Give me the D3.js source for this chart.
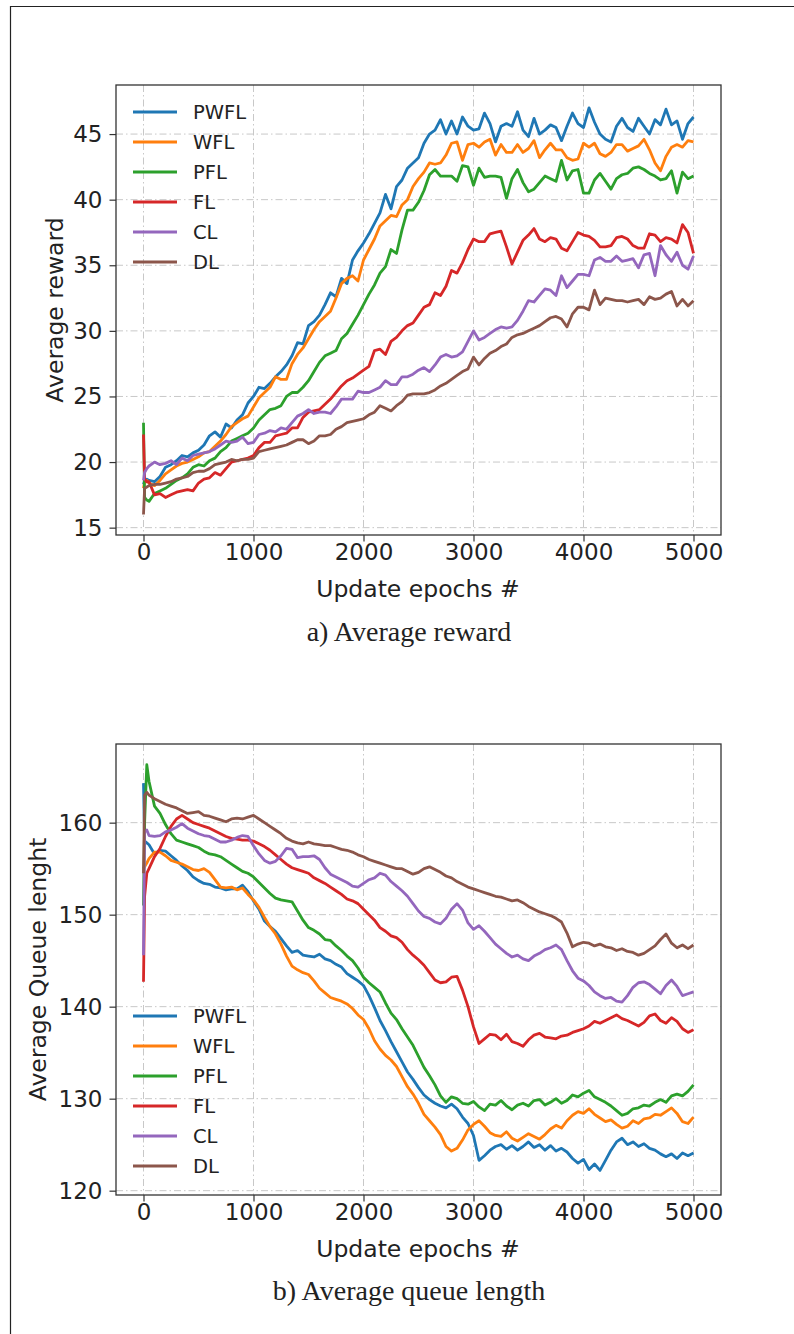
<!DOCTYPE html>
<html lang="en">
<head>
<meta charset="utf-8">
<script src="https://cdn.jsdelivr.net/npm/d3@7"></script>
<style>
    body { margin: 0; background: #fff; }
    svg { display: block; font-family: "DejaVu Sans", sans-serif; }
    .tick text { font-family: "DejaVu Sans", sans-serif; }
</style>
<title>Average reward / queue length</title>
</head>
<body>
<svg id="fig" width="794" height="1334"></svg>
<script>
// x positions shared by every series
const epochs = [0, 10, 30].concat(d3.range(50, 5001, 50));

const names = ["PWFL", "WFL", "PFL", "FL", "CL", "DL"];
const colors = ["#1f77b4", "#ff7f0e", "#2ca02c", "#d62728", "#9467bd", "#8c564b"];

// ---- a) Average reward ----
const rewardPWFL = [18.3, 18.6, 18.7, 18.6, 18.5, 18.9, 19.6, 19.8, 20.1, 20.5, 20.4, 20.7, 20.9, 21.3, 22.0, 22.3, 21.9, 22.9, 22.6, 23.2, 23.6, 24.5, 25.0,
    25.7, 25.6, 26.0, 26.5, 26.9, 27.4, 28.1, 29.1, 29.0, 30.4, 30.7, 31.2, 32.0, 32.9, 32.6, 34.0, 33.6, 35.4, 36.1, 36.7,
    37.4, 38.2, 39.0, 40.4, 39.3, 41.0, 41.5, 42.4, 42.8, 43.2, 44.3, 45.0, 45.3, 46.1, 45.0, 46.0, 45.0, 46.3, 45.6, 45.3,
    45.4, 46.6, 45.8, 44.4, 45.6, 45.8, 45.6, 46.7, 45.3, 44.8, 46.2, 45.0, 45.3, 45.7, 45.5, 44.5, 45.6, 46.6, 45.8, 45.5,
    47.0, 45.9, 45.0, 44.6, 44.4, 45.6, 46.2, 45.5, 45.2, 46.2, 45.6, 45.0, 46.1, 45.7, 46.9, 45.7, 46.0, 44.6, 45.8, 46.3];
const rewardWFL = [18.0, 18.5, 18.6, 18.4, 18.2, 18.6, 19.1, 19.4, 19.7, 19.9, 20.0, 20.2, 20.4, 20.7, 20.8, 21.2, 21.6, 22.1, 22.7, 23.0, 23.3, 23.5, 24.2,
    24.9, 25.3, 25.7, 26.5, 26.3, 26.3, 27.5, 28.2, 28.7, 29.4, 30.1, 30.7, 31.1, 31.5, 32.5, 33.6, 34.0, 34.2, 33.8, 35.4,
    36.2, 37.0, 38.0, 38.4, 38.8, 38.7, 39.6, 40.0, 41.0, 41.6, 42.1, 42.8, 42.7, 42.8, 43.4, 44.3, 44.4, 43.0, 44.2, 44.3,
    44.0, 44.4, 44.6, 43.4, 44.2, 43.6, 43.6, 44.2, 43.6, 43.9, 44.5, 43.2, 43.8, 44.3, 43.8, 43.8, 43.2, 43.0, 43.1, 44.3,
    44.0, 44.3, 43.5, 43.3, 43.6, 44.2, 44.2, 43.7, 43.9, 44.1, 44.6, 43.8, 42.8, 42.2, 43.3, 44.0, 44.2, 44.0, 44.5, 44.4];
const rewardPFL = [23.0, 17.3, 17.1, 17.0, 17.6, 17.8, 18.0, 18.3, 18.6, 18.8, 19.1, 19.6, 19.8, 19.7, 20.1, 20.3, 20.8, 21.1, 21.6, 21.8, 22.0, 22.2, 22.6,
    23.2, 23.6, 24.0, 24.1, 24.3, 25.0, 25.3, 25.3, 25.7, 26.2, 26.9, 27.6, 28.1, 28.3, 28.5, 29.4, 29.8, 30.5, 31.2, 32.0,
    32.8, 33.5, 34.4, 34.9, 36.2, 35.9, 37.7, 39.2, 39.2, 39.8, 40.7, 41.9, 42.3, 41.8, 41.8, 41.8, 41.4, 42.6, 42.5, 41.1,
    42.4, 41.7, 41.8, 41.8, 41.7, 40.1, 41.6, 42.3, 41.3, 40.6, 40.8, 41.3, 41.8, 41.6, 41.4, 43.0, 41.5, 42.2, 42.3, 40.5,
    40.5, 41.5, 42.0, 41.4, 40.8, 41.6, 41.9, 42.0, 42.4, 42.5, 42.3, 42.0, 41.8, 41.5, 41.6, 42.2, 40.5, 42.1, 41.6, 41.8];
const rewardFL = [22.1, 18.7, 18.5, 18.5, 17.5, 17.6, 17.3, 17.5, 17.7, 17.8, 17.9, 17.8, 18.4, 18.7, 18.8, 19.2, 19.0, 19.5, 20.0, 20.1, 20.2, 20.3, 20.5,
    21.1, 21.5, 21.5, 22.0, 22.1, 22.2, 22.6, 22.6, 23.4, 23.8, 23.9, 24.0, 24.4, 24.8, 25.3, 25.8, 26.2, 26.4, 26.7, 27.0,
    27.3, 28.5, 28.6, 28.2, 29.2, 29.5, 30.0, 30.4, 30.6, 31.2, 31.8, 32.0, 32.9, 32.7, 33.4, 34.6, 34.4, 35.2, 36.2, 37.0,
    36.8, 36.8, 37.4, 37.5, 37.6, 36.4, 35.1, 36.0, 36.9, 37.3, 37.8, 37.0, 36.8, 37.1, 37.0, 36.3, 36.1, 36.8, 37.5, 37.3,
    37.2, 36.9, 36.4, 36.4, 36.5, 37.1, 37.2, 37.0, 36.5, 36.3, 36.3, 37.4, 37.3, 36.8, 37.1, 37.0, 36.7, 38.1, 37.5, 35.9];
const rewardCL = [18.6, 19.2, 19.5, 19.7, 20.0, 19.8, 19.9, 20.1, 19.8, 20.3, 20.1, 20.5, 20.6, 20.7, 20.8, 21.0, 21.3, 21.6, 21.5, 21.6, 21.9, 21.4, 21.5,
    22.1, 22.2, 22.4, 22.3, 22.6, 22.5, 23.0, 23.5, 23.7, 24.0, 23.7, 23.8, 23.8, 23.7, 24.2, 24.8, 24.8, 24.8, 25.4, 25.3,
    25.3, 25.5, 25.7, 26.2, 25.9, 25.9, 26.5, 26.5, 26.7, 27.0, 27.2, 26.9, 27.4, 28.0, 28.2, 28.0, 28.1, 28.4, 29.2, 30.0,
    29.3, 29.5, 29.8, 30.1, 30.3, 30.2, 30.3, 30.8, 31.5, 32.3, 32.2, 32.7, 33.2, 33.1, 32.7, 34.2, 33.3, 33.8, 34.3, 34.3,
    34.2, 35.4, 35.6, 35.3, 35.3, 35.7, 35.3, 35.4, 35.5, 34.8, 35.8, 35.9, 34.2, 36.5, 35.8, 35.3, 36.0, 35.0, 34.7, 35.7];
const rewardDL = [16.0, 18.0, 18.1, 18.2, 18.3, 18.3, 18.4, 18.5, 18.7, 18.8, 18.9, 19.2, 19.3, 19.3, 19.5, 19.8, 19.9, 20.0, 20.2, 20.1, 20.2, 20.2, 20.3,
    20.8, 20.9, 21.0, 21.1, 21.2, 21.3, 21.5, 21.7, 21.7, 21.4, 21.6, 22.0, 22.0, 22.1, 22.5, 22.7, 23.0, 23.1, 23.2, 23.3,
    23.6, 23.8, 24.3, 24.1, 23.9, 24.3, 24.6, 25.1, 25.2, 25.2, 25.2, 25.3, 25.5, 25.8, 26.0, 26.3, 26.6, 26.9, 27.1, 28.0,
    27.4, 27.9, 28.3, 28.5, 28.8, 29.0, 29.5, 29.7, 29.8, 30.0, 30.2, 30.4, 30.7, 31.0, 31.1, 30.9, 30.3, 31.3, 31.8, 31.8,
    31.6, 33.1, 32.0, 32.5, 32.4, 32.3, 32.3, 32.2, 32.3, 32.4, 32.0, 32.6, 32.4, 32.5, 32.8, 33.0, 31.9, 32.4, 31.9, 32.3];

// ---- b) Average queue length ----
const queuePWFL = [164.3, 158.0, 157.8, 157.6, 156.6, 157.0, 156.9, 156.4, 155.9, 155.3, 154.8, 154.1, 153.7, 153.4, 153.3, 153.0, 152.9, 152.7, 152.8, 152.8, 153.2, 152.5, 151.5,
    150.6, 149.3, 148.7, 148.2, 147.4, 146.6, 145.9, 146.1, 145.6, 145.5, 145.4, 145.7, 145.2, 145.0, 144.6, 144.3, 143.6, 143.2, 142.8, 142.3,
    141.2, 139.9, 138.5, 137.4, 136.2, 135.1, 134.0, 132.9, 132.1, 131.2, 130.4, 129.9, 129.5, 129.2, 129.0, 129.4, 128.9, 128.0, 127.3, 126.0,
    123.3, 123.8, 124.4, 124.8, 125.0, 124.5, 124.9, 124.4, 124.8, 125.3, 124.7, 125.0, 124.4, 124.9, 124.3, 124.6, 124.2, 123.5, 123.0, 123.4,
    122.3, 122.9, 122.2, 123.3, 124.4, 125.3, 125.7, 125.0, 125.3, 124.8, 125.1, 124.6, 124.4, 124.0, 123.7, 124.0, 123.5, 124.1, 123.8, 124.1];
const queueWFL = [155.0, 155.2, 155.6, 156.1, 156.8, 156.8, 156.4, 155.9, 155.7, 155.5, 155.2, 154.9, 154.8, 155.0, 154.6, 153.8, 153.0, 152.9, 153.0, 152.7, 152.9, 152.2, 151.6,
    150.8, 149.7, 148.7, 147.9, 146.8, 145.5, 144.4, 144.0, 143.7, 143.5, 142.8, 142.0, 141.5, 141.0, 140.8, 140.6, 140.3, 139.8, 139.1, 138.6,
    137.6, 136.3, 135.4, 134.7, 134.2, 133.5, 132.4, 131.3, 130.5, 129.5, 128.3, 127.6, 126.9, 126.1, 124.8, 124.3, 124.6, 125.5, 126.6, 127.2,
    127.6, 127.0, 126.3, 126.0, 125.9, 126.4, 125.7, 125.4, 125.8, 126.2, 125.9, 125.6, 126.1, 126.7, 127.1, 126.8, 127.6, 128.2, 128.6, 128.4,
    128.9, 128.3, 127.9, 127.5, 127.7, 127.2, 126.8, 127.0, 127.6, 127.3, 127.8, 127.9, 128.3, 128.2, 128.6, 129.0, 128.4, 127.5, 127.3, 128.0];
const queuePFL = [151.0, 160.0, 166.3, 164.5, 161.8, 161.0, 159.8, 158.8, 158.1, 157.9, 157.7, 157.5, 157.3, 156.9, 156.6, 156.5, 156.3, 155.9, 155.5, 155.1, 154.7, 154.5, 154.1,
    153.5, 152.9, 152.3, 151.8, 151.6, 151.5, 151.4, 150.4, 149.4, 148.6, 148.3, 147.9, 147.3, 147.2, 146.6, 146.1, 145.5, 145.0, 144.2, 143.2,
    142.6, 142.1, 141.6, 140.4, 139.3, 138.6, 137.6, 136.7, 135.8, 134.6, 133.4, 132.5, 131.5, 130.3, 129.6, 130.2, 130.0, 129.5, 129.4, 129.7,
    129.1, 128.7, 129.4, 129.3, 129.8, 129.2, 128.8, 129.3, 129.5, 129.2, 129.8, 129.9, 129.3, 129.6, 130.0, 129.5, 129.8, 130.4, 130.2, 130.6,
    130.9, 130.2, 129.9, 129.6, 129.2, 128.7, 128.2, 128.4, 128.9, 129.0, 129.3, 129.2, 129.6, 129.9, 129.6, 130.3, 130.5, 130.3, 130.8, 131.5];
const queueFL = [142.7, 152.0, 154.5, 155.0, 156.3, 157.2, 158.5, 159.6, 160.4, 160.8, 160.4, 160.0, 159.8, 159.6, 159.4, 159.1, 158.8, 158.5, 158.3, 158.2, 158.1, 158.1, 158.0,
    157.7, 157.4, 157.0, 156.5, 156.0, 155.5, 155.1, 154.9, 154.7, 154.5, 154.0, 153.7, 153.4, 153.0, 152.6, 152.2, 151.7, 151.5, 151.2, 150.6,
    150.0, 149.4, 148.6, 148.2, 147.7, 147.5, 147.0, 146.2, 145.6, 145.1, 144.5, 143.7, 142.9, 142.6, 142.7, 143.2, 143.3, 141.8, 140.0, 137.8,
    136.0, 136.5, 137.0, 136.9, 136.4, 137.0, 136.2, 136.0, 135.7, 136.4, 136.9, 137.1, 136.7, 136.6, 136.5, 136.8, 136.9, 137.2, 137.4, 137.6,
    137.9, 138.4, 138.2, 138.5, 138.8, 139.1, 138.7, 138.5, 138.2, 137.9, 138.3, 139.0, 139.2, 138.5, 138.2, 138.8, 138.4, 137.6, 137.2, 137.5];
const queueCL = [145.6, 159.0, 159.2, 158.6, 158.5, 158.6, 159.0, 159.2, 159.5, 159.9, 159.4, 159.1, 158.8, 158.6, 158.5, 158.2, 157.9, 157.9, 158.1, 158.4, 158.6, 158.5, 157.5,
    156.6, 155.9, 155.6, 155.8, 156.4, 157.2, 157.1, 156.2, 156.3, 156.3, 156.4, 156.0, 155.1, 154.4, 154.1, 153.8, 153.5, 153.1, 153.0, 153.4,
    153.8, 154.0, 154.5, 154.3, 153.6, 153.1, 152.6, 152.0, 151.2, 150.4, 149.8, 149.6, 149.2, 149.0, 149.6, 150.6, 151.2, 150.5, 149.1, 148.4,
    148.8, 148.2, 147.5, 146.8, 146.3, 145.8, 145.4, 145.6, 145.2, 145.0, 145.5, 145.8, 146.2, 146.4, 146.7, 146.2, 145.0, 143.9, 143.1, 142.8,
    142.3, 141.6, 141.2, 140.9, 141.0, 140.6, 140.5, 141.2, 142.1, 142.6, 142.7, 142.4, 141.9, 141.4, 142.3, 142.9, 142.2, 141.2, 141.4, 141.6];
const queueDL = [154.5, 163.0, 163.3, 163.0, 162.6, 162.3, 162.0, 161.8, 161.6, 161.3, 161.0, 161.1, 161.2, 160.8, 160.7, 160.5, 160.3, 160.1, 160.4, 160.5, 160.4, 160.6, 160.8,
    160.4, 160.0, 159.6, 159.2, 158.8, 158.3, 158.0, 157.8, 157.7, 157.9, 157.7, 157.6, 157.5, 157.5, 157.3, 157.1, 157.0, 156.8, 156.5, 156.3,
    156.0, 155.8, 155.6, 155.4, 155.2, 155.0, 155.0, 154.7, 154.4, 154.6, 155.0, 155.2, 154.9, 154.6, 154.2, 154.0, 153.6, 153.3, 153.0, 152.8,
    152.6, 152.4, 152.2, 152.0, 151.9, 151.7, 151.5, 151.6, 151.3, 150.9, 150.6, 150.3, 150.1, 149.9, 149.6, 149.2, 148.0, 146.5, 146.8, 147.0,
    146.9, 146.6, 146.8, 146.5, 146.4, 146.1, 146.3, 146.0, 145.9, 145.6, 145.8, 146.2, 146.6, 147.3, 147.9, 146.9, 146.4, 146.7, 146.3, 146.7];

const xTicks = [0, 1000, 2000, 3000, 4000, 5000];
const rewardTicks = [15, 20, 25, 30, 35, 40, 45];
const queueTicks = [120, 130, 140, 150, 160];

const svg = d3.select("#fig");
const plotLeft = 116, plotRight = 721;
const labelFont = "'DejaVu Sans', sans-serif";

// page frame (left and top edge of the figure box)
svg.append("path")
    .attr("d", "M10.5,1334 V6.5 H794")
    .attr("fill", "none")
    .attr("stroke", "#222")
    .attr("stroke-width", 1.2);

function drawPanel(cfg) {
    const x = d3.scaleLinear().domain([-250, 5250]).range([plotLeft, plotRight]);
    const y = d3.scaleLinear().domain(cfg.yDomain).range([cfg.bottom, cfg.top]);
    const g = svg.append("g");

    // grid
    const grid = g.append("g");
    grid.append("g").selectAll("line").data(xTicks).join("line")
        .attr("x1", d => x(d)).attr("x2", d => x(d))
        .attr("y1", cfg.top).attr("y2", cfg.bottom);
    grid.append("g").selectAll("line").data(cfg.yTicks).join("line")
        .attr("x1", plotLeft).attr("x2", plotRight)
        .attr("y1", d => y(d)).attr("y2", d => y(d));
    grid.selectAll("line")
        .attr("stroke", "#c8c8c8")
        .attr("stroke-width", 1)
        .attr("stroke-dasharray", "7,3,1.5,3");

    // lines
    const clipId = "clip-" + cfg.id;
    svg.append("clipPath").attr("id", clipId).append("rect")
        .attr("x", plotLeft).attr("y", cfg.top)
        .attr("width", plotRight - plotLeft).attr("height", cfg.bottom - cfg.top);
    const line = d3.line().x((d, i) => x(epochs[i])).y(d => y(d));
    g.append("g").attr("clip-path", `url(#${clipId})`)
        .selectAll("path").data(cfg.series).join("path")
        .attr("d", d => line(d))
        .attr("fill", "none")
        .attr("stroke", (d, i) => colors[i])
        .attr("stroke-width", 2.8)
        .attr("stroke-linejoin", "round");

    // axes
    const xAxis = g.append("g")
        .attr("transform", `translate(0,${cfg.bottom})`)
        .call(d3.axisBottom(x).tickValues(xTicks).tickFormat(d3.format("d"))
            .tickSize(6.5).tickPadding(2).tickSizeOuter(0));
    const yAxis = g.append("g")
        .attr("transform", `translate(${plotLeft},0)`)
        .call(d3.axisLeft(y).tickValues(cfg.yTicks).tickFormat(d3.format("d"))
            .tickSize(6.5).tickPadding(7).tickSizeOuter(0));
    [xAxis, yAxis].forEach(a => {
        a.attr("font-family", labelFont);
        a.select(".domain").remove();
        a.selectAll(".tick line").attr("stroke", "#333").attr("stroke-width", 1.2);
        a.selectAll(".tick text").attr("font-size", 23).attr("fill", "#222");
    });

    // box
    g.append("rect")
        .attr("x", plotLeft).attr("y", cfg.top)
        .attr("width", plotRight - plotLeft).attr("height", cfg.bottom - cfg.top)
        .attr("fill", "none").attr("stroke", "#333").attr("stroke-width", 1.3);

    // axis labels
    g.append("text")
        .attr("x", 418).attr("y", cfg.bottom + 62)
        .attr("text-anchor", "middle")
        .attr("font-family", labelFont)
        .attr("font-size", 23.5).attr("fill", "#222")
        .text("Update epochs #");
    g.append("text")
        .attr("transform", `translate(${cfg.yLabelX},${(cfg.top + cfg.bottom) / 2}) rotate(-90)`)
        .attr("text-anchor", "middle")
        .attr("font-family", labelFont)
        .attr("font-size", 23.5).attr("fill", "#222")
        .text(cfg.yLabel);

    // legend
    const leg = g.append("g").selectAll("g").data(names).join("g")
        .attr("transform", (d, i) => `translate(133,${cfg.legendTop + i * 30})`);
    leg.append("line")
        .attr("x1", 0).attr("x2", 44)
        .attr("stroke", (d, i) => colors[i]).attr("stroke-width", 2.8);
    leg.append("text")
        .attr("x", 60).attr("dy", "0.35em")
        .attr("font-family", labelFont)
        .attr("font-size", 19.5).attr("fill", "#222")
        .text(d => d);

    // caption
    svg.append("text")
        .attr("x", 409).attr("y", cfg.captionY)
        .attr("text-anchor", "middle")
        .attr("font-family", "'Liberation Serif', 'Times New Roman', serif")
        .attr("font-size", 28).attr("fill", "#222")
        .text(cfg.caption);
}

drawPanel({
    id: "reward", top: 85, bottom: 535,
    yDomain: [14.44, 48.74], yTicks: rewardTicks,
    series: [rewardPWFL, rewardWFL, rewardPFL, rewardFL, rewardCL, rewardDL],
    yLabel: "Average reward", yLabelX: 63,
    legendTop: 112, caption: "a) Average reward", captionY: 641
});
drawPanel({
    id: "queue", top: 744, bottom: 1195,
    yDomain: [119.53, 168.55], yTicks: queueTicks,
    series: [queuePWFL, queueWFL, queuePFL, queueFL, queueCL, queueDL],
    yLabel: "Average Queue lenght", yLabelX: 46,
    legendTop: 1016, caption: "b) Average queue length", captionY: 1300
});
</script>
</body>
</html>
